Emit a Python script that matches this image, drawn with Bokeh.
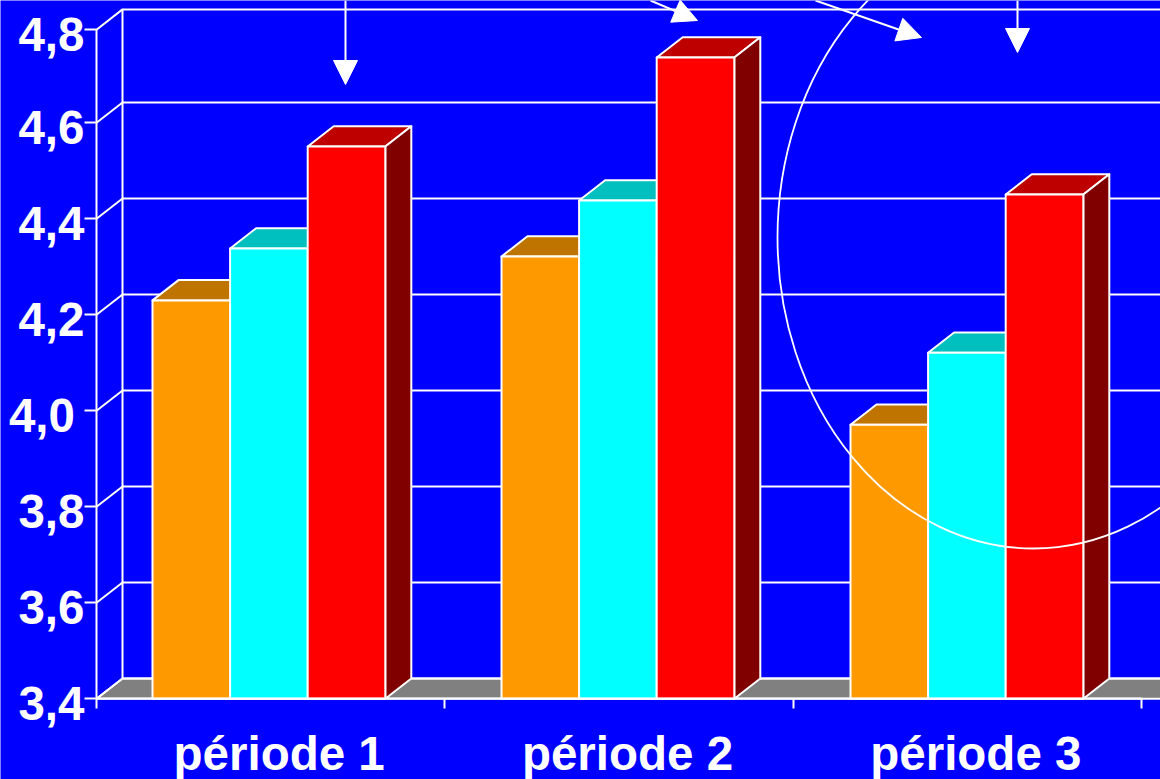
from bokeh.plotting import figure
from bokeh.models import Range1d, FixedTicker, LinearAxis, Arrow, NormalHead
from bokeh.embed import file_html
from bokeh.resources import INLINE

periods = ["période 1", "période 2", "période 3"]
orange_values = [4.230, 4.3215, 3.971]
cyan_values = [4.338, 4.438, 4.121]
red_values = [4.5506, 4.736, 4.4506]
# the top tick of the reference sits about 3 px below a regular 4.8
y_ticks = [3.4, 3.6, 3.8, 4.0, 4.2, 4.4, 4.6, 4.794]
y_labels = ["3,4", "3,6", "3,8", "4,0\u2009", "4,2", "4,4", "4,6", "4,8"]

FONT = "Liberation Sans"
WHITE = "#ffffff"
BLUE = "#0000ff"

# pixel geometry of the frame
PX_X0, PX_Y0 = 96.0, 698.3
PX_PER_X, PX_PER_Y = 348.33, 480.0
FIG_W, FIG_H = 1160, 779


def dx(px):
    return (px - PX_X0) / PX_PER_X


def dy(py):
    return 3.4 + (PX_Y0 - py) / PX_PER_Y


DEPTH_X = 26.0 / PX_PER_X
DEPTH_Y = 20.3 / PX_PER_Y
BAR_W = 77.6 / PX_PER_X
BAR_STARTS = [dx(152), dx(501), dx(850)]
XMAX = dx(FIG_W)
YMIN = 3.4

p = figure(
    frame_width=FIG_W, frame_height=FIG_H,
    x_range=Range1d(dx(0), XMAX), y_range=Range1d(dy(FIG_H), dy(0)),
    output_backend="svg", toolbar_location=None,
    x_axis_type=None, y_axis_type=None,
    min_border=0,
    background_fill_color=BLUE, border_fill_color=BLUE, outline_line_color=None,
)
p.xgrid.visible = False
p.ygrid.visible = False

# floor
p.patch([0, DEPTH_X, XMAX + DEPTH_X * 2, XMAX], [YMIN, YMIN + DEPTH_Y, YMIN + DEPTH_Y, YMIN],
        fill_color="#808080", line_color=WHITE, line_width=2)

# back wall and left wall lines
wall_xs = [[0, DEPTH_X, XMAX] for _ in y_ticks]
wall_ys = [[v, v + DEPTH_Y, v + DEPTH_Y] for v in y_ticks]
p.multi_line(wall_xs, wall_ys, line_color=WHITE, line_width=2)
p.segment([DEPTH_X], [YMIN + DEPTH_Y], [DEPTH_X], [y_ticks[-1] + DEPTH_Y], line_color=WHITE, line_width=2)

# 3-D bars
series = [
    (orange_values, "#ff9900", "#c07400", "#804d00"),
    (cyan_values, "#00ffff", "#00bfbf", "#008080"),
    (red_values, "#ff0000", "#bf0000", "#800000"),
]
BAR_LINE = dict(line_color=WHITE, line_width=2, line_join="round")
for s, (vals, front, top, side) in enumerate(series):
    lefts = [b + s * BAR_W for b in BAR_STARTS]
    rights = [x + BAR_W for x in lefts]
    p.patches(
        [[l, l + DEPTH_X, r + DEPTH_X, r] for l, r in zip(lefts, rights)],
        [[v, v + DEPTH_Y, v + DEPTH_Y, v] for v in vals],
        fill_color=top, **BAR_LINE)
    p.patches(
        [[r, r + DEPTH_X, r + DEPTH_X, r] for r in rights],
        [[YMIN, YMIN + DEPTH_Y, v + DEPTH_Y, v] for v in vals],
        fill_color=side, **BAR_LINE)
    p.quad(left=lefts, right=rights, bottom=YMIN, top=vals, fill_color=front, **BAR_LINE)

# y axis: labels sit slightly below their ticks in the reference
LABEL_SHIFT = 5 / PX_PER_Y
label_pos = [v - LABEL_SHIFT for v in y_ticks]
yax = LinearAxis(
    fixed_location=0,
    ticker=FixedTicker(ticks=label_pos, minor_ticks=y_ticks),
    major_label_overrides=dict(zip(label_pos, y_labels)),
    bounds=(y_ticks[0], y_ticks[-1]),
    axis_line_color=WHITE, axis_line_width=2,
    major_tick_line_color=None, major_tick_in=0, major_tick_out=0,
    minor_tick_line_color=WHITE, minor_tick_line_width=2, minor_tick_in=0, minor_tick_out=12,
    major_label_standoff=0,
    major_label_text_color=WHITE, major_label_text_font=FONT,
    major_label_text_font_style="bold", major_label_text_font_size="47.5px",
)
p.add_layout(yax, "left")

# x axis: ticks at the period boundaries, labels between them
XLAB_SHIFT = 8.5 / PX_PER_X
xlab_pos = [i + 0.5 + XLAB_SHIFT for i in range(len(periods))]
xax = LinearAxis(
    fixed_location=3.4,
    ticker=FixedTicker(ticks=xlab_pos, minor_ticks=list(range(len(periods) + 1))),
    major_label_overrides=dict(zip(xlab_pos, periods)),
    bounds=(0, len(periods)),
    axis_line_color=WHITE, axis_line_width=2,
    major_tick_line_color=None, major_tick_in=0, major_tick_out=0,
    minor_tick_line_color=WHITE, minor_tick_line_width=2, minor_tick_in=0, minor_tick_out=10,
    major_label_standoff=18,
    major_label_text_color=WHITE, major_label_text_font=FONT,
    major_label_text_font_style="bold", major_label_text_font_size="47.5px",
)
p.add_layout(xax, "below")

# free-hand ellipse drawn over the chart
p.ellipse([dx(1033)], [dy(237)], width=512 / PX_PER_X, height=622 / PX_PER_Y,
          fill_color=None, line_color=WHITE, line_width=1.8)

# arrows
arrows = [((345, 0), (345, 84)), ((650, 0), (697, 20)), ((815, 0), (921, 37)), ((1017, 0), (1017, 52))]
for (x0, y0), (x1, y1) in arrows:
    p.add_layout(Arrow(
        x_start=dx(x0), y_start=dy(y0), x_end=dx(x1), y_end=dy(y1),
        line_color=WHITE, line_width=2,
        end=NormalHead(size=24, fill_color=WHITE, line_color=WHITE, line_width=1),
    ))

open("out.html", "w").write(file_html(p, INLINE))
